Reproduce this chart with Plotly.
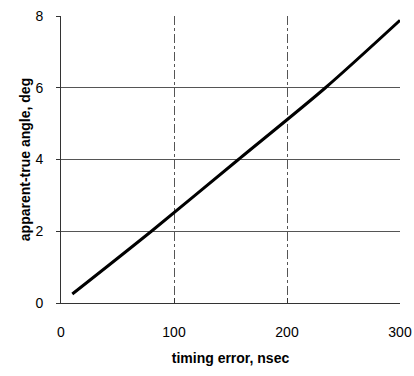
import plotly.graph_objects as go

timing_error = [10, 80, 157, 234, 300]
angle_error = [0.25, 2.0, 4.0, 6.0, 7.88]

x_ticks = [0, 100, 200, 300]
y_ticks = [0, 2, 4, 6, 8]

fig = go.Figure()
fig.add_trace(go.Scatter(
    x=timing_error, y=angle_error, mode="lines",
    line=dict(color="black", width=3, shape="spline", smoothing=0.8),
    showlegend=False,
))

fig.update_layout(
    width=414, height=376,
    margin=dict(l=61, r=14, t=16, b=73),
    paper_bgcolor="white", plot_bgcolor="white",
    font=dict(family="Liberation Sans, Arial, sans-serif", color="black", size=14),
)
fig.update_xaxes(
    range=[0, 300], tickvals=x_ticks, ticktext=[str(v) for v in x_ticks],
    showline=True, linecolor="#333", linewidth=1,
    ticks="inside", ticklen=5, tickcolor="#333",
    showgrid=True, gridcolor="#555", gridwidth=1, griddash="dashdot",
    zeroline=False, ticklabelstandoff=16, automargin=False,
    title=dict(text="<b>timing error, nsec</b>", font=dict(size=14), standoff=14),
)
fig.update_yaxes(
    range=[0, 8], tickvals=y_ticks, ticktext=[str(v) for v in y_ticks],
    showline=True, linecolor="#333", linewidth=1,
    ticks="outside", ticklen=4, tickcolor="#333",
    showgrid=True, gridcolor="#555", gridwidth=1, griddash="solid",
    zeroline=False, ticklabelstandoff=10, automargin=False,
    title=dict(text="<b>apparent-true angle, deg</b>", font=dict(size=14), standoff=1),
)

fig.write_html("out.html")
